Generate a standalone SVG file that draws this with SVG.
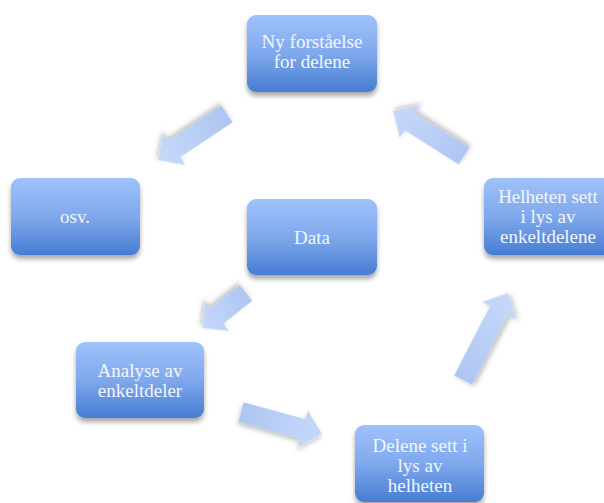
<svg xmlns="http://www.w3.org/2000/svg" width="604" height="503" viewBox="0 0 604 503">
<defs>
<linearGradient id="boxg" x1="0" y1="0" x2="0" y2="1">
<stop offset="0" stop-color="#9fc2fb"/>
<stop offset="0.5" stop-color="#80a8ec"/>
<stop offset="1" stop-color="#467dd3"/>
</linearGradient>
<linearGradient id="arrg" x1="0" y1="0" x2="1" y2="0">
<stop offset="0" stop-color="#adc6f2"/>
<stop offset="1" stop-color="#c6d9fa"/>
</linearGradient>
<filter id="sh" x="-20%" y="-20%" width="140%" height="150%">
<feDropShadow dx="0" dy="4" stdDeviation="2.5" flood-color="#000" flood-opacity="0.35"/>
</filter>
<filter id="ash" x="-30%" y="-30%" width="160%" height="170%">
<feDropShadow dx="0" dy="3" stdDeviation="2.5" flood-color="#000" flood-opacity="0.25"/>
</filter>
</defs>
<style>
.box{fill:url(#boxg);filter:url(#sh)}
.t{font-family:"Liberation Serif","Times New Roman",serif;font-size:19px;fill:#f2f6fd;text-anchor:middle}
.a{fill:url(#arrg);filter:url(#ash)}
</style>
<rect width="604" height="503" fill="#ffffff"/>
<g id="connectors">
<path class="a" transform="translate(227,114) rotate(146.3)" d="M0,-10 L63,-10 L63,-19 L83,0 L63,19 L63,10 L0,10 Z"/>
<path class="a" transform="translate(464,156) rotate(212.4)" d="M0,-10 L64,-10 L64,-19 L84,0 L64,19 L64,10 L0,10 Z"/>
<path class="a" transform="translate(246,293) rotate(141.5)" d="M0,-10 L37,-10 L37,-19 L56,0 L37,19 L37,10 L0,10 Z"/>
<path class="a" transform="translate(241,412) rotate(15.2)" d="M0,-10 L64,-10 L64,-19 L84,0 L64,19 L64,10 L0,10 Z"/>
<path class="a" transform="translate(463,380) rotate(-62.6)" d="M0,-10 L78,-10 L78,-19 L98,0 L78,19 L78,10 L0,10 Z"/>
</g>
<g id="n1"><rect class="box" x="247" y="15" width="130" height="77" rx="9"/><text class="t" x="312" y="48">Ny forståelse</text><text class="t" x="312" y="68">for delene</text></g>
<g id="n2"><rect class="box" x="11" y="178" width="129" height="77" rx="9"/><text class="t" x="75" y="223">osv.</text></g>
<g id="n3"><rect class="box" x="247" y="199" width="130" height="76" rx="9"/><text class="t" x="312" y="244">Data</text></g>
<g id="n4"><rect class="box" x="484" y="178" width="130" height="77" rx="9"/><text class="t" x="548" y="203">Helheten sett</text><text class="t" x="548" y="223">i lys av</text><text class="t" x="548" y="243">enkeltdelene</text></g>
<g id="n5"><rect class="box" x="76" y="342" width="128" height="76" rx="9"/><text class="t" x="140" y="377">Analyse av</text><text class="t" x="140" y="397">enkeltdeler</text></g>
<g id="n6"><rect class="box" x="355" y="425" width="129" height="77" rx="9"/><text class="t" x="420" y="452">Delene sett i</text><text class="t" x="420" y="472">lys av</text><text class="t" x="420" y="492">helheten</text></g>
</svg>
